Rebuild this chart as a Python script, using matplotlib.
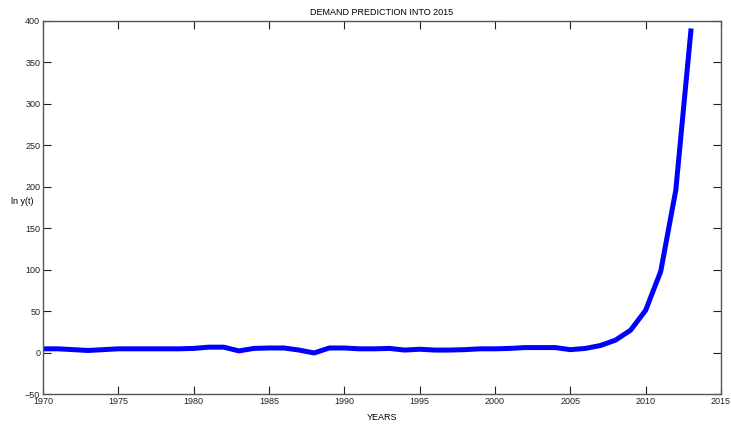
import matplotlib

matplotlib.use("Agg")

import matplotlib.pyplot as plt
import numpy as np

# Yearly demand prediction, 1970-2013
years = np.arange(1970, 2014)
demand = [
    4.5, 4.5, 3.5, 2.5, 3.5, 4.5, 4.5, 4.5, 4.5, 4.5,   # 1970-1979
    5.0, 6.5, 6.5, 2.0, 5.0, 5.5, 5.5, 3.0, -0.5, 5.5,  # 1980-1989
    5.5, 4.5, 4.5, 5.0, 3.0, 4.0, 3.0, 3.0, 3.5, 4.5,   # 1990-1999
    4.5, 5.0, 6.0, 6.0, 6.0, 3.5, 5.0, 8.5, 15.0, 27.0,  # 2000-2009
    51.0, 98.0, 196.0, 388.0,                            # 2010-2013
]

xticks = np.arange(1970, 2016, 5)
yticks = np.arange(-50, 401, 50)

plt.rcParams["font.family"] = ["Liberation Sans", "DejaVu Sans"]
plt.rcParams["font.size"] = 6.5

fig = plt.figure(figsize=(7.31, 4.26), dpi=100)
ax = fig.add_axes([43 / 731, 32 / 426, 678 / 731, 373 / 426])

ax.plot(years, demand, color="#0000ff", lw=3.6, solid_joinstyle="round")

ax.set_xlim(1970, 2015)
ax.set_ylim(-50, 400)
ax.set_xticks(xticks)
ax.set_yticks(yticks)
ax.tick_params(direction="in", length=5.5, width=0.8, top=True, right=True,
               pad=2, labelsize=6.5, colors="#222222")
for spine in ax.spines.values():
    spine.set_color("#555555")
    spine.set_linewidth(1.0)

ax.set_title("DEMAND PREDICTION INTO 2015", fontsize=6.5, pad=4)
ax.set_xlabel("YEARS", fontsize=6.5, labelpad=5)
ax.set_ylabel("ln y(t)", fontsize=6.5, rotation=0, va="center", ha="center")
ax.yaxis.set_label_coords(-0.031, 0.515)

fig.savefig("out.png", dpi=100)
